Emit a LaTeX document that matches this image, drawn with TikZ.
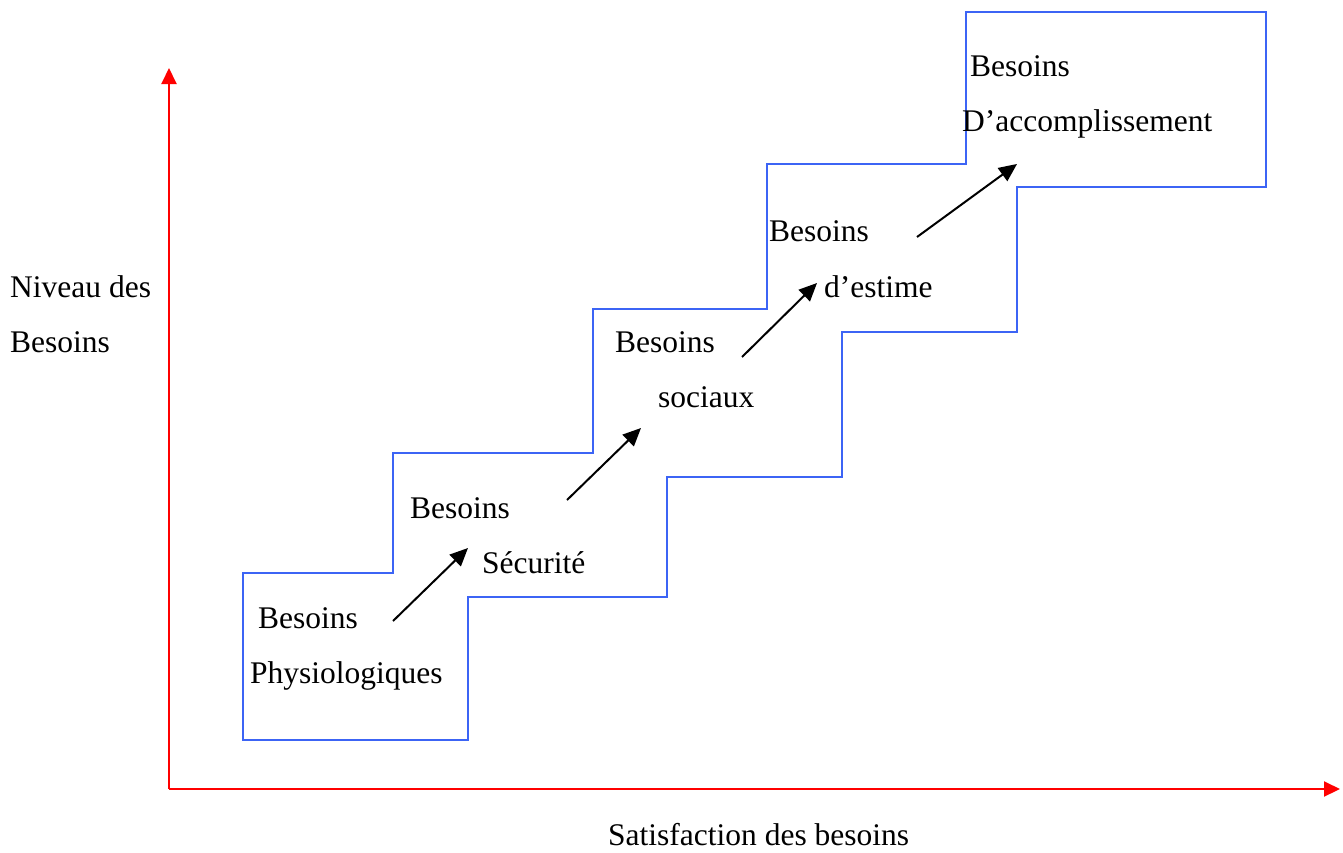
\documentclass[tikz,border=0pt]{standalone}
\usepackage{fontspec}
\setmainfont{Liberation Serif}
\usetikzlibrary{arrows.meta}
\definecolor{stairblue}{RGB}{60,100,245}
\tikzset{
  lbl/.style={anchor=base west, inner sep=0pt, font=\fontsize{31.5}{38}\selectfont},
  axis/.style={draw=red, line width=2pt, -{Triangle[length=16pt,width=15pt]}},
  rise/.style={draw=black, line width=2pt, -{Triangle[length=18pt,width=16pt]}},
  stair/.style={draw=stairblue, line width=2pt, line join=miter}
}
\begin{document}
\begin{tikzpicture}[x=1pt,y=-1pt]
\useasboundingbox (0,0) rectangle (1343,852);

% staircase outline
\draw[stair] (243,740) -- (243,573) -- (393,573) -- (393,453) -- (593,453)
  -- (593,309) -- (767,309) -- (767,164) -- (966,164) -- (966,12)
  -- (1266,12) -- (1266,187) -- (1017,187) -- (1017,332) -- (842,332)
  -- (842,477) -- (667,477) -- (667,597) -- (468,597) -- (468,740) -- cycle;

% axes
\coordinate (origin) at (169,789);
\coordinate (ytip) at (169,68);
\coordinate (xtip) at (1340,789);
\draw[axis] (origin) -- (ytip);
\draw[axis] (origin) -- (xtip);

% step labels
\node[lbl] (p1) at (258,628) {Besoins};
\node[lbl] (p2) at (250,683) {Physiologiques};
\node[lbl] (s1) at (410,518) {Besoins};
\node[lbl] (s2) at (482,573) {Sécurité};
\node[lbl] (c1) at (615,352) {Besoins};
\node[lbl] (c2) at (658,407) {sociaux};
\node[lbl] (e1) at (769,241) {Besoins};
\node[lbl] (e2) at (824,297) {d’estime};
\node[lbl] (a1) at (970,76) {Besoins};
\node[lbl] (a2) at (962,131) {D’accomplissement};

% axis labels
\node[lbl] (n1) at (10,297) {Niveau des};
\node[lbl] (n2) at (10,352) {Besoins};
\node[lbl] (sat) at (608,845) {Satisfaction des besoins};

% arrows between steps
\coordinate (r1a) at (393,621);  \coordinate (r1b) at (468,548);
\coordinate (r2a) at (567,500);  \coordinate (r2b) at (641,428);
\coordinate (r3a) at (742,357);  \coordinate (r3b) at (817,283);
\coordinate (r4a) at (917,237);  \coordinate (r4b) at (1017,164);
\draw[rise] (r1a) -- (r1b);
\draw[rise] (r2a) -- (r2b);
\draw[rise] (r3a) -- (r3b);
\draw[rise] (r4a) -- (r4b);
\end{tikzpicture}
\end{document}
